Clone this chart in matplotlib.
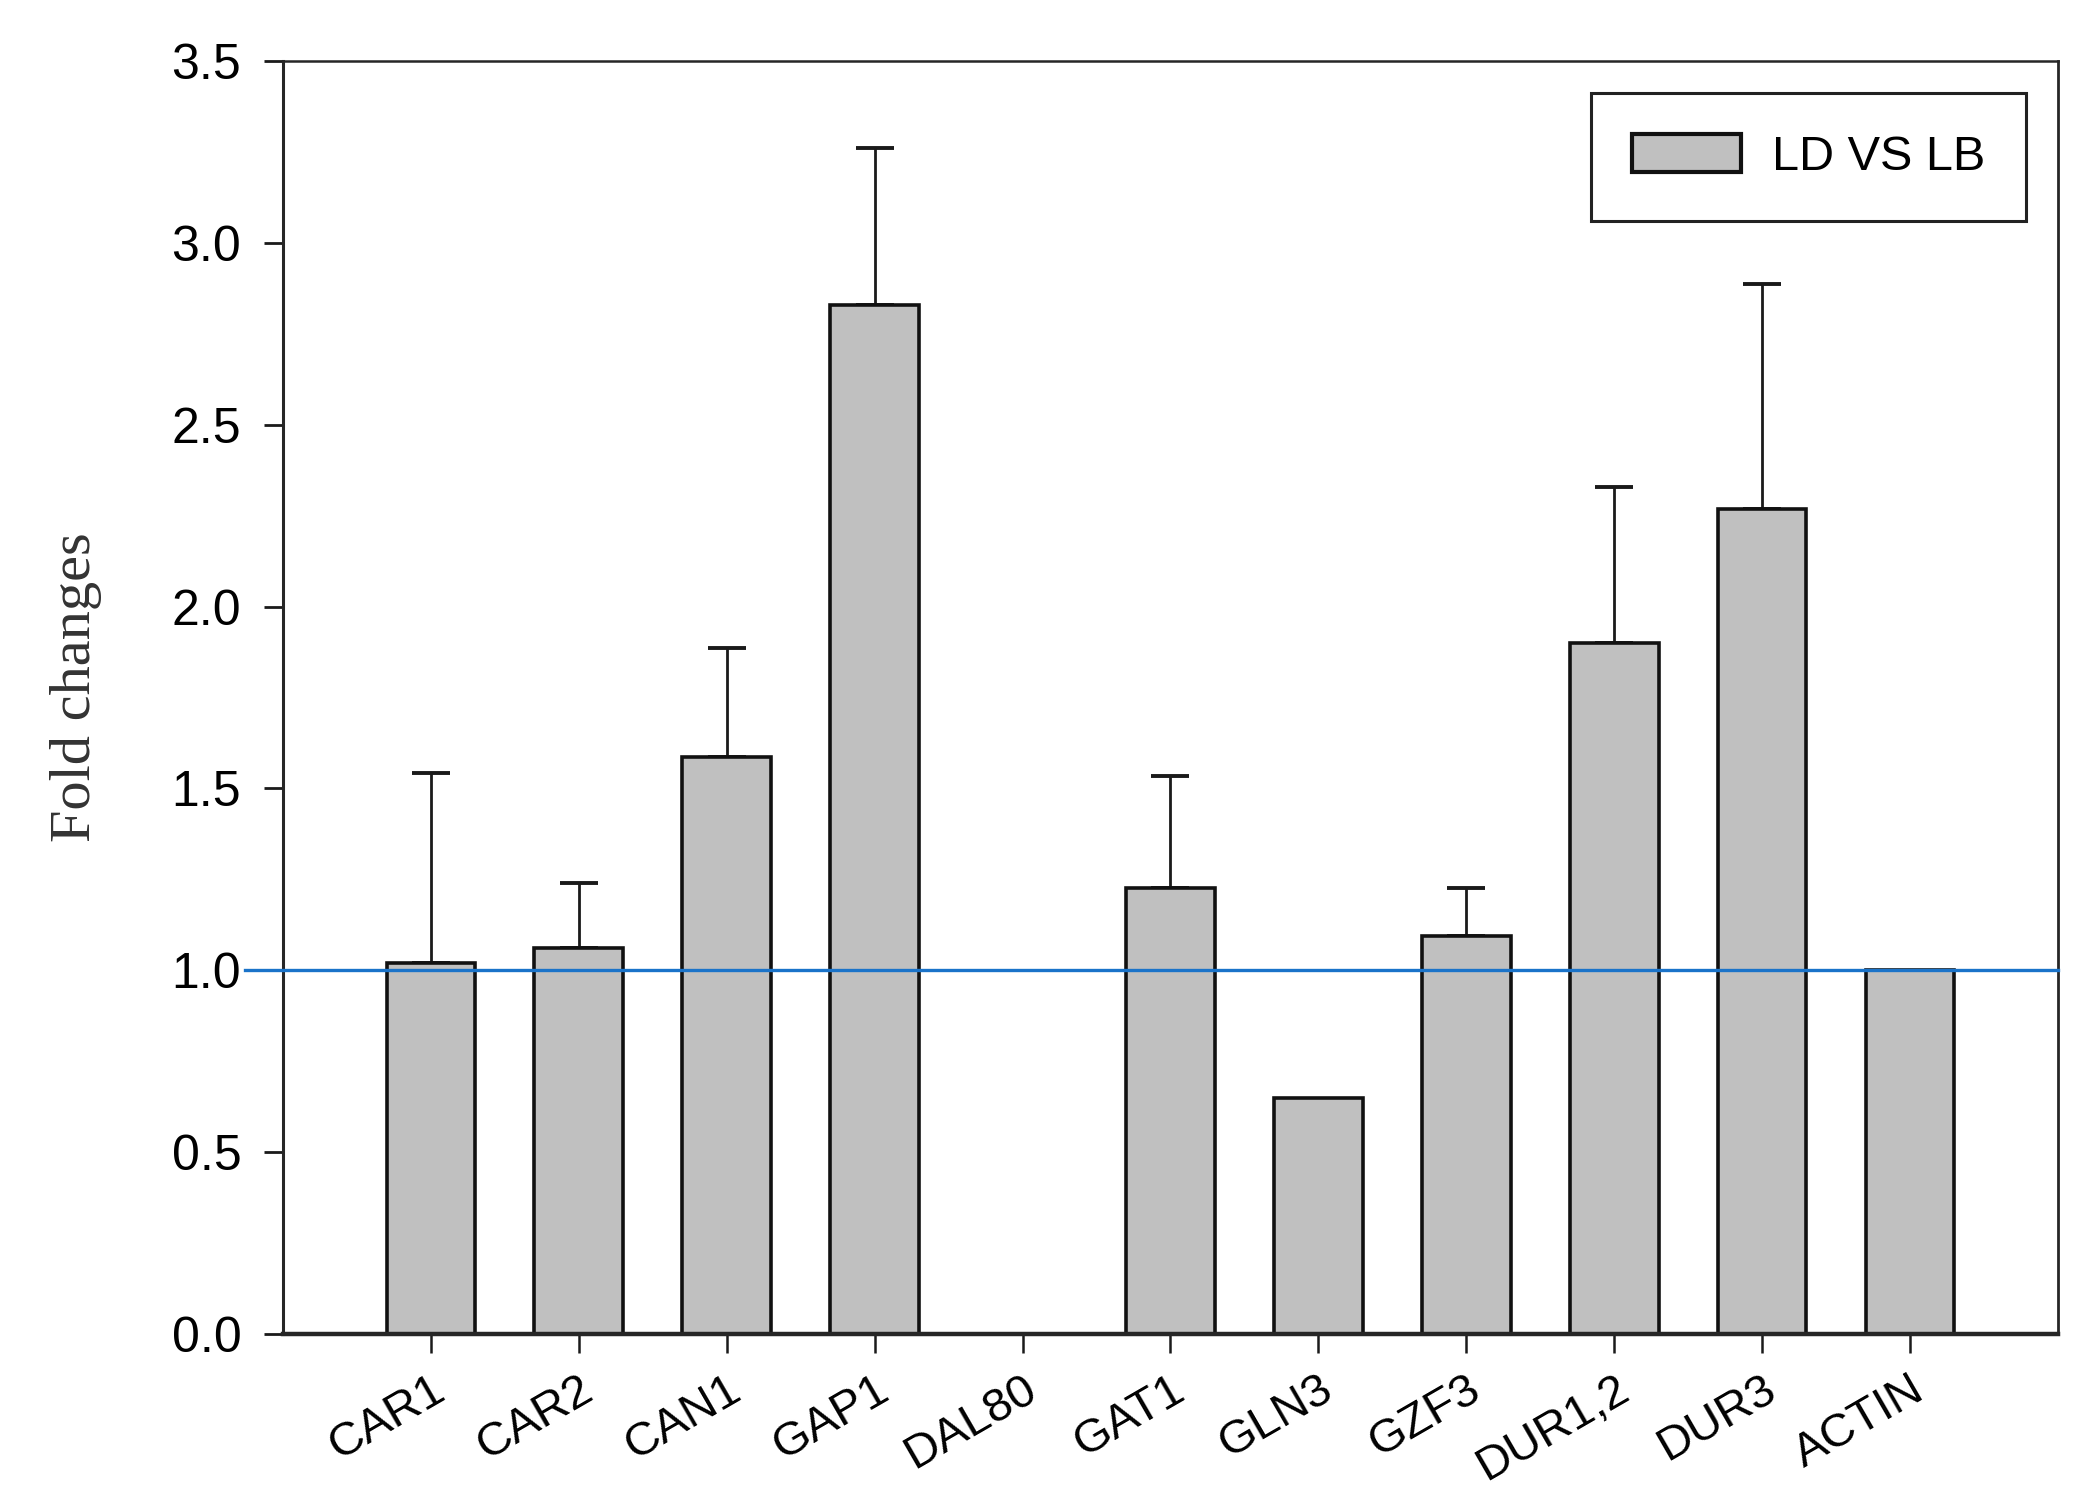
import matplotlib
matplotlib.use("Agg")
import matplotlib.pyplot as plt
import numpy as np

genes = ["CAR1", "CAR2", "CAN1", "GAP1", "DAL80", "GAT1", "GLN3", "GZF3", "DUR1,2", "DUR3", "ACTIN"]
fold_changes = [1.02, 1.06, 1.585, 2.83, 0.0, 1.225, 0.65, 1.095, 1.90, 2.268, 1.0]
errors = [0.522, 0.18, 0.30, 0.43, 0.0, 0.31, 0.0, 0.13, 0.43, 0.62, 0.0]
series_label = "LD VS LB"
yticks = [0.0, 0.5, 1.0, 1.5, 2.0, 2.5, 3.0, 3.5]
reference_level = 1.0

plt.rcParams['font.family'] = ['Liberation Sans', 'DejaVu Sans']

fig = plt.figure(figsize=(20.95, 15.02), dpi=100)
ax = fig.add_axes([0.1351, 0.1119, 0.9823 - 0.1351, 0.9594 - 0.1119])

x = np.arange(len(genes))
ax.bar(x, fold_changes, width=0.6, color='#c0c0c0', edgecolor='#111111',
       linewidth=2.6, label=series_label, zorder=2)

# upward-only error bars
mask = np.array(errors) > 0
xe = x[mask]
ye = np.array(fold_changes)[mask]
ee = np.array(errors)[mask]
ax.errorbar(xe, ye, yerr=[np.zeros_like(ee), ee], fmt='none', ecolor='#1a1a1a',
            elinewidth=2.0, capsize=14, capthick=2.8, zorder=1)

ax.set_xlim(-1, len(genes))
ax.set_ylim(0, 3.5)

# reference line at 1.0
ax.plot([-1.26, len(genes)], [reference_level, reference_level], color='#1a73c9',
        linewidth=2.4, zorder=5, clip_on=False)

ax.set_yticks(yticks)
ax.set_yticklabels([f"{v:.1f}" for v in yticks], fontsize=36)
ax.set_xticks(x)
ax.set_xticklabels(genes, fontsize=34, rotation=30, ha='right', va='top',
                   rotation_mode='anchor')

ax.tick_params(axis='y', direction='out', length=14, width=2.0, pad=16, colors='#1a1a1a',
               labelcolor='black')
ax.tick_params(axis='x', direction='out', length=14, width=1.8, pad=10, colors='#1a1a1a',
               labelcolor='black')

for side, lw in [('left', 2.2), ('bottom', 3.2), ('top', 1.8), ('right', 2.0)]:
    ax.spines[side].set_linewidth(lw)
    ax.spines[side].set_color('#262626')

ax.set_ylabel("Fold changes", family=['Liberation Serif', 'DejaVu Serif'], fontsize=42,
              color='#333333')
ax.yaxis.set_label_coords(-0.102, 0.508)

leg = ax.legend(loc='upper right', fontsize=35, handlelength=2.25, handleheight=0.84,
                handletextpad=0.62, borderpad=0.85, borderaxespad=0.65,
                fancybox=False, framealpha=1, edgecolor='#222222')
leg.get_frame().set_linewidth(2.2)
leg.legend_handles[0].set_linewidth(3.0)

fig.savefig("out.png", dpi=100, facecolor='white')
